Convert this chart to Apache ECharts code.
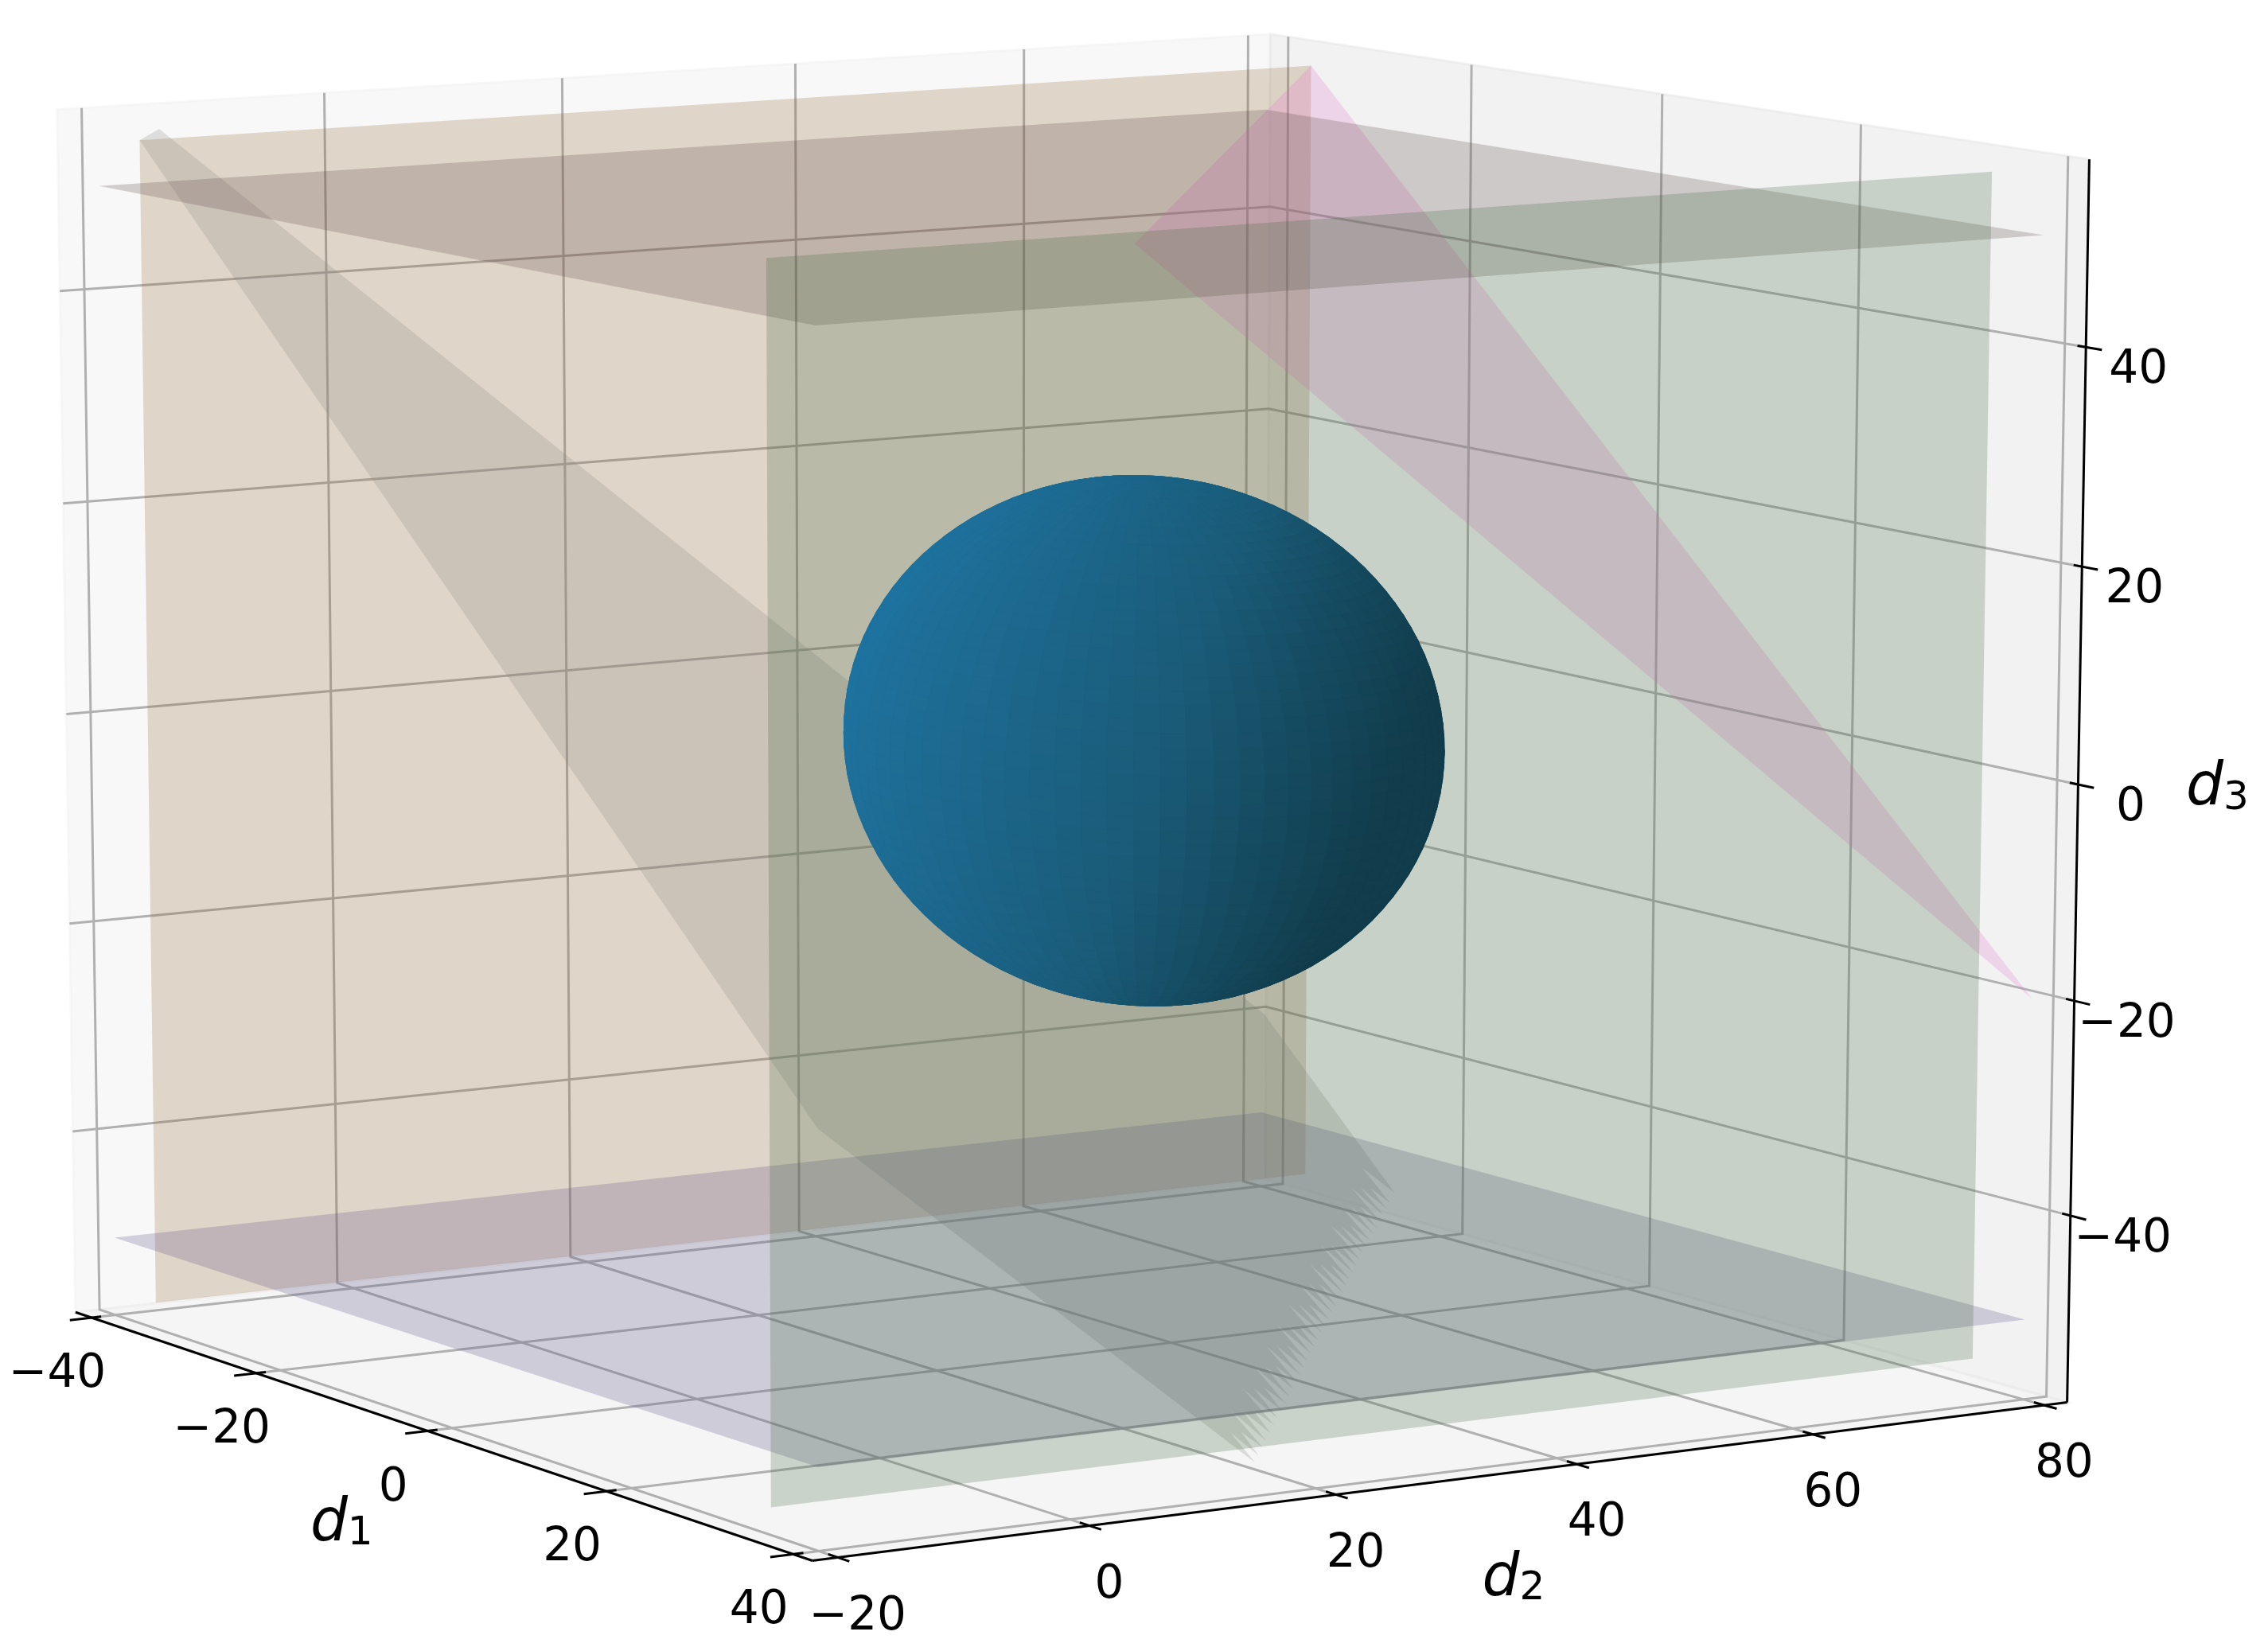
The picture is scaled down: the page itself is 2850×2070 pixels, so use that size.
<!DOCTYPE html>
<html>
<head>
<meta charset="utf-8">
<style>html,body{margin:0;background:#fff}#chart{width:2850px;height:2070px}</style>
</head>
<body>
<div id="chart"></div>
<script src="https://cdn.jsdelivr.net/npm/echarts@6/dist/echarts.min.js"></script>
<script>
// axis ticks and box limits, data units
var d1Ticks = [-40, -20, 0, 20, 40];
var d2Ticks = [-20, 0, 20, 40, 60, 80];
var d3Ticks = [-40, -20, 0, 20, 40];
var d1Labels = ['−40', '−20', '0', '20', '40'];
var d2Labels = ['−20', '0', '20', '40', '60', '80'];
var d3Labels = ['−40', '−20', '0', '20', '40'];
var d1Lim = [-42, 42];
var d2Lim = [-22, 82];
var d3Lim = [-57.5, 57];

// planes, [d1, d2, d3] corners
var tanPlane = [[-35, -20, 55], [-35, 80, 55], [-35, 80, -55], [-35, -20, -55]];
var greenPlane = [[35, -20, 55], [35, 80, 55], [35, 80, -55], [35, -20, -55]];
var topPlane = [[-40, -20, 50], [-40, 80, 50], [40, 80, 50], [40, -20, 50]];
var bottomPlane = [[-40, -20, -50], [-40, 80, -50], [40, 80, -50], [40, -20, -50]];
var pinkPlane = [[-35, 80, 55], [-21.7, 53.8, 41.7], [40, 80.1, -20]];
var grayPlane = [[-35, -20, 55], [48.8, -26.6, -17], [51.4, 6, -50], [-12.4, 69.4, -50], [-28.7, 71.1, -36.4], [-39.9, -15.1, 55]];
// d1 of the spikes along the ragged lower edge of the gray plane
var grayToothD1 = [51.4, 49.9, 48.2, 46.7, 45, 43.3, 41.8, 40.1, 38.5, 36.9, 35.2, 33.6, 32.1, 30.4, 28.8, 27.2, 25.6, 24, 22.3, 20.8, 19.1, 17.5, 15.9, 14.3, 12.7, 11, 9.5, 7.8, 6.2, 4.6, 3, 1.4, -0.2, -1.9, -3.4, -5.1, -6.7, -8.3, -9.9, -12.4];
var grayToothDepth = [1.2, 0.9, 1.5];

// ball
var ballCenter = [0, 37.4, 0];
var ballRadii = [20, 20, 24.5];
var ballStops = [[-0.85, [17, 60, 75]], [-0.13, [26, 91, 120]], [0.85, [30, 112, 155]]];
var spot = [-25.1, 37.3, -20.8];

// fitted camera, data/50 -> px/1000
var cam = [0.52108, 0.79112, -0.01118, 0.87189, 0.09041, -0.04551, -0.68982, 0.98305, -0.05276, 0.02600, -0.00893];

function depth(p) {
	return cam[8] * p[0] / 50 + cam[9] * p[1] / 50 + cam[10] * p[2] / 50 + 1;
}
function project(p) {
	var x = p[0] / 50, y = p[1] / 50, z = p[2] / 50, w = depth(p);
	return [1000 * (cam[0] * x + cam[1] * y + cam[2] * z + cam[3]) / w, 1000 * (cam[4] * x + cam[5] * y + cam[6] * z + cam[7]) / w];
}

var lo1 = d1Lim[0], hi1 = d1Lim[1], lo2 = d2Lim[0], hi2 = d2Lim[1], lo3 = d3Lim[0], hi3 = d3Lim[1];

var panes = [
	{pts: [[lo1, lo2, lo3], [lo1, hi2, lo3], [lo1, hi2, hi3], [lo1, lo2, hi3]], fill: 'rgba(242,242,242,0.5)'},
	{pts: [[lo1, hi2, lo3], [hi1, hi2, lo3], [hi1, hi2, hi3], [lo1, hi2, hi3]], fill: 'rgba(230,230,230,0.5)'},
	{pts: [[lo1, lo2, lo3], [hi1, lo2, lo3], [hi1, hi2, lo3], [lo1, hi2, lo3]], fill: 'rgba(236,236,236,0.5)'}
];

var grid = [];
d1Ticks.forEach(function (d) {
	grid.push([[d, lo2, lo3], [d, hi2, lo3], [d, hi2, hi3]]);
});
d2Ticks.forEach(function (d) {
	grid.push([[hi1, d, lo3], [lo1, d, lo3], [lo1, d, hi3]]);
});
d3Ticks.forEach(function (d) {
	grid.push([[hi1, hi2, d], [lo1, hi2, d], [lo1, lo2, d]]);
});

var axisLines = [
	[[lo1, lo2, lo3], [hi1, lo2, lo3]],
	[[hi1, lo2, lo3], [hi1, hi2, lo3]],
	[[hi1, hi2, lo3], [hi1, hi2, hi3]]
];
d1Ticks.forEach(function (d) {
	axisLines.push([[d, lo2 - 1.8, lo3], [d, lo2 + 0.8, lo3]]);
});
d2Ticks.forEach(function (d) {
	axisLines.push([[hi1 + 1.2, d, lo3], [hi1 - 1, d, lo3]]);
});
d3Ticks.forEach(function (d) {
	axisLines.push([[hi1 + 1.5, hi2, d], [hi1 - 0.8, hi2, d]]);
});

// gray plane with its spikes put into the lower edge
function grayOutline() {
	var out = grayPlane.slice(0, 2);
	grayToothD1.forEach(function (d, i) {
		out.push([d, 57.2 - d, -50]);
		if (i < grayToothD1.length - 1) {
			var m = (d + grayToothD1[i + 1]) / 2, t = grayToothDepth[i % 3];
			out.push([m - t, 57.2 - m - t, -50 + 1.87 * t]);
		}
	});
	return out.concat(grayPlane.slice(4));
}

var planes = [
	{pts: tanPlane, fill: 'rgba(149,101,53,0.235)'},
	{pts: grayOutline(), fill: 'rgba(140,140,136,0.25)'},
	{pts: pinkPlane, fill: 'rgba(226,122,202,0.25)'},
	{pts: topPlane, fill: 'rgba(91,66,66,0.235)'},
	{pts: bottomPlane, fill: 'rgba(97,85,135,0.25)'},
	{pts: greenPlane, fill: 'rgba(62,106,62,0.24)'}
];

function ballColor(s) {
	var a = ballStops[0], b = ballStops[1];
	if (s > b[0]) { a = ballStops[1]; b = ballStops[2]; }
	var t = Math.min(1.1, Math.max(0, (s - a[0]) / (b[0] - a[0])));
	return 'rgb(' + [0, 1, 2].map(function (i) {
		return Math.round(a[1][i] + t * (b[1][i] - a[1][i]));
	}).join(',') + ')';
}
function ballPoint(u, v) {
	return [
		ballCenter[0] + ballRadii[0] * Math.cos(u) * Math.sin(v),
		ballCenter[1] + ballRadii[1] * Math.sin(u) * Math.sin(v),
		ballCenter[2] + ballRadii[2] * Math.cos(v)
	];
}
var ballFacets = [];
(function () {
	var nu = 72, nv = 60, light = [-0.667, -0.667, 0.333];
	for (var i = 0; i < nu; i++) {
		for (var j = 0; j < nv; j++) {
			var u0 = 2 * Math.PI * i / nu, u1 = 2 * Math.PI * (i + 1) / nu, v0 = Math.PI * j / nv, v1 = Math.PI * (j + 1) / nv;
			var um = (u0 + u1) / 2, vm = (v0 + v1) / 2;
			var n = [Math.cos(um) * Math.sin(vm) / ballRadii[0], Math.sin(um) * Math.sin(vm) / ballRadii[1], Math.cos(vm) / ballRadii[2]];
			var len = Math.sqrt(n[0] * n[0] + n[1] * n[1] + n[2] * n[2]);
			var s = (n[0] * light[0] + n[1] * light[1] + n[2] * light[2]) / len;
			var c = ballColor(s);
			ballFacets.push({
				pts: [ballPoint(u0, v0), ballPoint(u1, v0), ballPoint(u1, v1), ballPoint(u0, v1)],
				d: depth(ballPoint(um, vm)),
				fill: c,
				stroke: c,
				lineWidth: 1.2
			});
		}
	}
	ballFacets.sort(function (a, b) { return b.d - a.d; });
})();

var texts = [];
function addLabels(ticks, labels, at, dx, dy) {
	ticks.forEach(function (d, i) {
		texts.push({p: at(d), dx: dx, dy: dy, text: labels[i], size: 58});
	});
}
addLabels(d1Ticks, d1Labels, function (d) { return [d, lo2, lo3]; }, -43, 72);
addLabels(d2Ticks, d2Labels, function (d) { return [hi1, d, lo3]; }, 25, 75);
addLabels(d3Ticks, d3Labels, function (d) { return [hi1, hi2, d]; }, 66, 30);
texts.push({p: [0, lo2, lo3], dx: -108, dy: 115, text: '{d|d}{s|1}'});
texts.push({p: [hi1, 30, lo3], dx: 71, dy: 123, text: '{d|d}{s|2}'});
texts.push({p: [hi1, hi2, 0], dx: 175, dy: 3, text: '{d|d}{s|3}'});

function polygonSeries(name, list) {
	return {
		name: name,
		type: 'custom',
		coordinateSystem: 'cartesian2d',
		silent: true,
		clip: false,
		animation: false,
		data: list.map(function (o, i) { return [i, 0]; }),
		renderItem: function (params, api) {
			var o = list[params.dataIndex];
			return {
				type: 'polygon',
				shape: {points: o.pts.map(function (p) { return api.coord(project(p)); })},
				style: {fill: o.fill, stroke: o.stroke || null, lineWidth: o.lineWidth || 0}
			};
		}
	};
}
function lineSeries(name, list, color, width) {
	return {
		name: name,
		type: 'custom',
		coordinateSystem: 'cartesian2d',
		silent: true,
		clip: false,
		animation: false,
		data: list.map(function (o, i) { return [i, 0]; }),
		renderItem: function (params, api) {
			return {
				type: 'polyline',
				shape: {points: list[params.dataIndex].map(function (p) { return api.coord(project(p)); })},
				style: {fill: null, stroke: color, lineWidth: width, lineJoin: 'miter'}
			};
		}
	};
}
var richTitle = {
	d: {fontFamily: 'DejaVu Sans', fontStyle: 'italic', fontSize: 74, lineHeight: 80, fill: '#000', color: '#000', verticalAlign: 'bottom'},
	s: {fontFamily: 'DejaVu Sans', fontSize: 50, lineHeight: 46, fill: '#000', color: '#000', verticalAlign: 'bottom'}
};

var option = {
	backgroundColor: '#fff',
	animation: false,
	grid: {left: 0, right: 0, top: 0, bottom: 0},
	xAxis: {type: 'value', min: 0, max: 2850, show: false},
	yAxis: {type: 'value', min: 0, max: 2070, inverse: true, show: false},
	series: [
		polygonSeries('panes', panes.map(function (o) { return {pts: o.pts, fill: o.fill, stroke: o.fill, lineWidth: 3}; })),
		lineSeries('grid', grid, '#b0b0b0', 3),
		lineSeries('axes', axisLines, '#000', 3),
		polygonSeries('planes', planes),
		polygonSeries('spot', [{pts: [spot, [spot[0] + 0.5, spot[1], spot[2] + 0.6], [spot[0], spot[1] + 0.5, spot[2] + 0.6]], fill: '#1f2d33'}]),
		polygonSeries('ball', ballFacets),
		{
			name: 'text',
			type: 'custom',
			coordinateSystem: 'cartesian2d',
			silent: true,
			clip: false,
			animation: false,
			data: texts.map(function (o, i) { return [i, 0]; }),
			renderItem: function (params, api) {
				var o = texts[params.dataIndex], c = api.coord(project(o.p));
				return {
					type: 'text',
					x: c[0] + o.dx,
					y: c[1] + o.dy,
					style: {
						text: o.text,
						fill: '#000',
						fontFamily: 'DejaVu Sans',
						fontSize: o.size || 74,
						align: 'center',
						verticalAlign: 'middle',
						rich: o.size ? undefined : richTitle
					}
				};
			}
		}
	]
};
var chart = echarts.init(document.getElementById('chart'), null, {renderer: 'canvas'});
chart.setOption(option);
</script>
</body>
</html>
